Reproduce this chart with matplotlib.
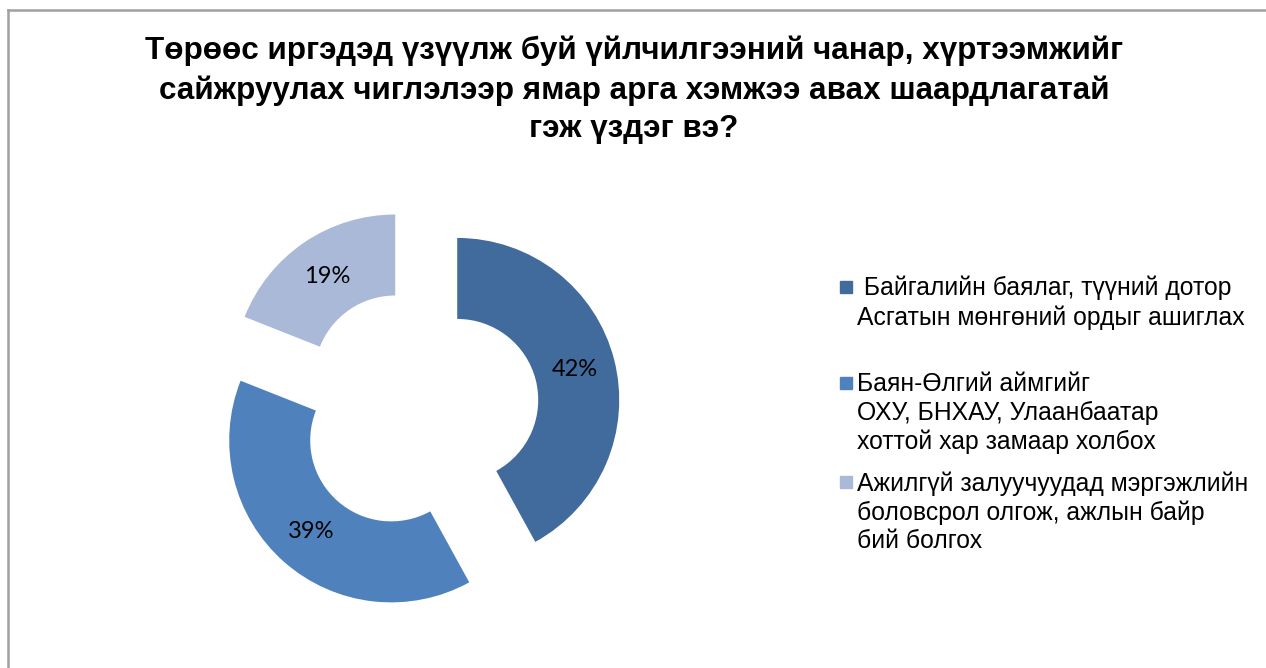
import matplotlib.pyplot as plt
from matplotlib.patches import Rectangle
from matplotlib.lines import Line2D

title = "Төрөөс иргэдэд үзүүлж буй үйлчилгээний чанар, хүртээмжийг\nсайжруулах чиглэлээр ямар арга хэмжээ авах шаардлагатай\nгэж үздэг вэ?"
labels = [" Байгалийн баялаг, түүний дотор\nАсгатын мөнгөний ордыг ашиглах",
          "Баян-Өлгий аймгийг\nОХУ, БНХАУ, Улаанбаатар\nхоттой хар замаар холбох",
          "Ажилгүй залуучуудад мэргэжлийн\nболовсрол олгож, ажлын байр\nбий болгох"]
values = [42, 39, 19]
colors = ['#416b9c', '#4f81bd', '#a9b9d7']

W, H = 1266, 668
fig = plt.figure(figsize=(W / 100, H / 100), dpi=100)

# grey frame (top and left edges visible)
fig.add_artist(Line2D([8 / W, 8 / W], [0, 1 - 10 / H], color='#a0a0a0', lw=1.8))
fig.add_artist(Line2D([8 / W, 1], [1 - 10 / H, 1 - 10 / H], color='#a0a0a0', lw=1.8))

fig.text(634 / W, 1 - 90 / H, title, ha='center', va='center', fontsize=22.6,
         fontweight='bold', family='Liberation Sans', linespacing=1.38)

# donut, centre at (418, 410) px, radius 162 px
ax = fig.add_axes([175 / W, 15 / H, 486 / W, 486 / H])
ax.set_aspect('equal')
ax.axis('off')
wedges, texts, autotexts = ax.pie(values, colors=colors, startangle=90, counterclock=False,
                                  explode=[0.25] * 3, radius=1.0,
                                  wedgeprops=dict(width=0.5, linewidth=0),
                                  autopct='%d%%', pctdistance=0.75)
for t in autotexts:
    t.set_fontsize(17)
    t.set_family('Lato')
ax.set_xlim(-1.5, 1.5)
ax.set_ylim(-1.5, 1.5)

# legend drawn by hand so markers sit on first line
tops = [287, 383, 482]
for lab, col, y in zip(labels, colors, tops):
    fig.add_artist(Rectangle((840 / W, 1 - (y + 6) / H), 12 / W, 12 / H,
                             color=col, transform=fig.transFigure))
    fig.text(857 / W, 1 - (y - 11) / H, lab, ha='left', va='top', fontsize=17.8,
             family='Liberation Sans', linespacing=1.24)

fig.savefig('out.png', dpi=100)
